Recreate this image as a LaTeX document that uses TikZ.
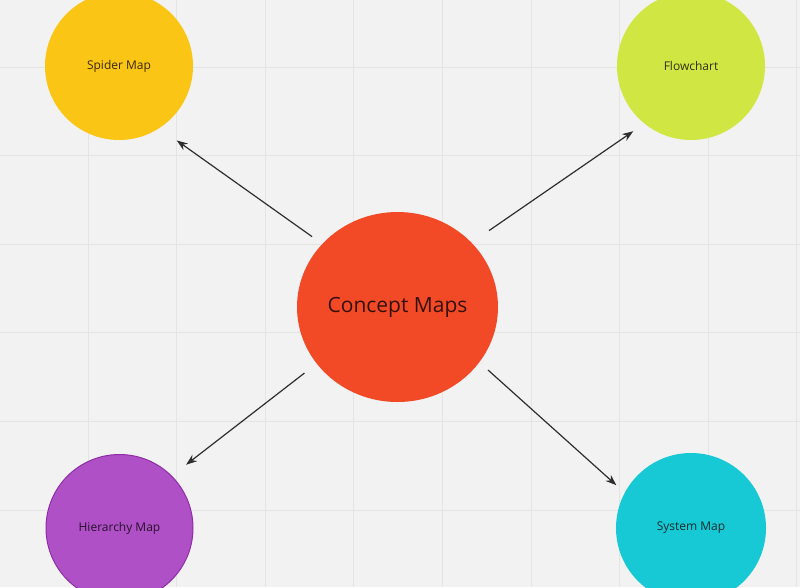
\documentclass[tikz,border=0pt]{standalone}
\usepackage{fontspec}
\setmainfont{Open Sans}
\usetikzlibrary{arrows.meta,shapes.geometric}
\definecolor{bg}{HTML}{F2F2F2}
\definecolor{gridc}{HTML}{E4E4E4}
\definecolor{spiderc}{HTML}{FBC515}
\definecolor{flowc}{HTML}{D0E643}
\definecolor{conceptc}{HTML}{F24A26}
\definecolor{hierc}{HTML}{B050C6}
\definecolor{hierb}{HTML}{8E2EA6}
\definecolor{systemc}{HTML}{16C9D4}
\definecolor{arrowc}{HTML}{2E2E2E}
\tikzset{
  bubble/.style={ellipse, inner sep=0pt, outer sep=0pt, text=black, text opacity=0.78,
    font=\fontsize{12}{14}\selectfont, minimum width=148pt, minimum height=148pt},
  bigbubble/.style={bubble, font=\fontsize{21}{25}\selectfont, minimum width=201pt, minimum height=190pt},
  link/.style={draw=arrowc, line width=1.2pt, -{Stealth[length=11pt,width=8pt]}},
  gridline/.style={draw=gridc, line width=1pt}
}
\begin{document}
\begin{tikzpicture}[x=1pt,y=-1pt]
\useasboundingbox (0,0) rectangle (800,587);
\clip (0,0) rectangle (800,587);
\fill[bg] (0,0) rectangle (800,587);
\foreach \k in {-1,...,8} {\draw[gridline] ({88+88.6*\k},0) -- ({88+88.6*\k},587);}
\foreach \k in {-1,...,6} {\draw[gridline] (0,{67+88.6*\k}) -- (800,{67+88.6*\k});}

\node[bubble, fill=spiderc] (spider) at (119,66) {Spider Map};
\node[bubble, fill=flowc] (flow) at (691,66) {Flowchart};
\node[bigbubble, fill=conceptc] (concept) at (397.5,307) {Concept Maps};
\node[bubble, fill=hierc, draw=hierb, line width=1pt, minimum width=147pt, minimum height=147pt] (hier) at (119.5,528) {Hierarchy Map};
\node[bubble, fill=systemc, minimum width=150pt, minimum height=150pt] (system) at (691,528) {System Map};

\draw[link, shorten <=12.6pt, shorten >=21.4pt] (concept.140.2) -- (spider.-57.7);
\draw[link, shorten <=21.3pt, shorten >=13.6pt] (concept.41.6) -- (flow.-129.2);
\draw[link, shorten <=15.6pt, shorten >=18.5pt] (concept.-145.8) -- (hier.45);
\draw[link, shorten <=11.8pt, shorten >=11.3pt] (concept.-34.8) -- (system.152.7);
\end{tikzpicture}
\end{document}
